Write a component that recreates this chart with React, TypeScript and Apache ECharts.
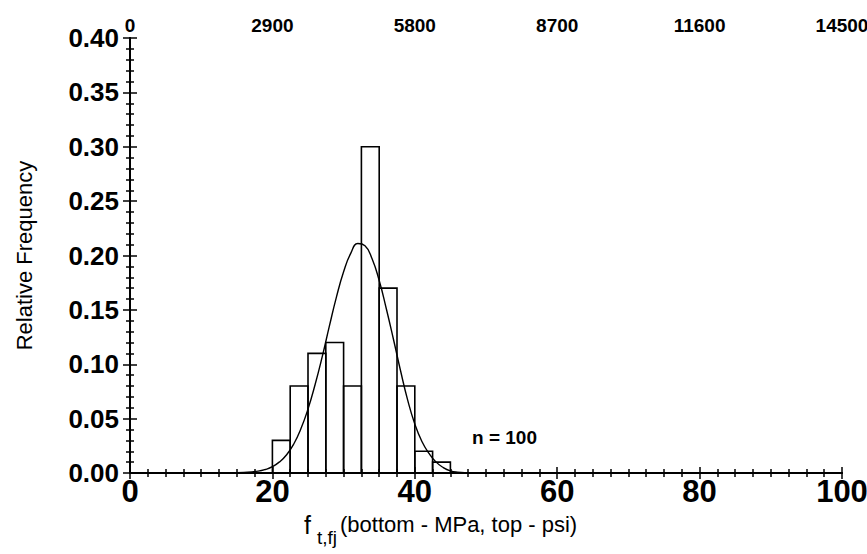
import React, { useEffect, useRef } from "react";
import * as echarts from "echarts";

const binEdges = [20, 22.5, 25, 27.5, 30, 32.5, 35, 37.5, 40, 42.5, 45];
const relFreq = [0.03, 0.08, 0.11, 0.12, 0.08, 0.3, 0.17, 0.08, 0.02, 0.01];

const curveX = [14, 16, 18, 19, 20, 21, 22, 23, 24, 25, 26, 27, 28, 29, 30, 31, 32, 33, 34, 35, 36, 37, 38, 39, 40, 41, 42, 43, 44, 45, 46, 48];
const curveY = [0.0, 0.0005, 0.0017, 0.0032, 0.0058, 0.0102, 0.0168, 0.0267, 0.0406, 0.0588, 0.0814, 0.107, 0.135, 0.162, 0.185, 0.202, 0.211, 0.209, 0.197, 0.177, 0.151, 0.123, 0.094, 0.067, 0.045, 0.029, 0.018, 0.01, 0.005, 0.002, 0.0008, 0.0];

const bottomMin = 0;
const bottomMax = 100;
const bottomInterval = 20;
const topMin = 0;
const topMax = 14500;
const topInterval = 2900;
const yMin = 0;
const yMax = 0.4;
const yInterval = 0.05;

const yTitle = "Relative Frequency";
const xTitleMain = "f";
const xTitleSub = "t,fj";
const xTitleRest = "(bottom - MPa, top - psi)";
const sampleLabel = "n = 100";

const FONT = '"Liberation Sans", Arial, sans-serif';

export default function App() {
  const ref = useRef<HTMLDivElement>(null);
  useEffect(() => {
    if (!ref.current) return;
    const chart = echarts.init(ref.current, null, { renderer: "svg" });
    const axisLine = { show: true, lineStyle: { color: "#000", width: 2 } };
    const tickStyle = { color: "#000", width: 1.5 };
    const option: any = {
      animation: false,
      backgroundColor: "#fff",
      grid: { left: 130, right: 25, top: 38, bottom: 81, outerBoundsMode: "none", containLabel: false },
      xAxis: [
        {
          type: "value",
          position: "bottom",
          min: bottomMin,
          max: bottomMax,
          interval: bottomInterval,
          axisLine,
          axisTick: { show: true, inside: false, length: 6, lineStyle: tickStyle },
          minorTick: { show: true, splitNumber: 8, length: 4, lineStyle: tickStyle },
          splitLine: { show: false },
          axisLabel: {
            color: "#000",
            fontFamily: FONT,
            fontSize: 31,
            fontWeight: "bold",
            margin: 3,
            formatter: (v: number) => String(v),
            showMinLabel: true,
            showMaxLabel: true,
          },
        },
        {
          type: "value",
          position: "top",
          min: topMin,
          max: topMax,
          interval: topInterval,
          axisLine,
          axisTick: { show: true, inside: false, length: 6, lineStyle: tickStyle },
          minorTick: { show: true, splitNumber: 8, length: 4, lineStyle: tickStyle },
          splitLine: { show: false },
          axisLabel: {
            color: "#000",
            fontFamily: FONT,
            fontSize: 19,
            fontWeight: "bold",
            margin: 3,
            formatter: (v: number) => String(v),
            showMinLabel: true,
            showMaxLabel: true,
          },
        },
      ],
      yAxis: [
        {
          type: "value",
          position: "left",
          min: yMin,
          max: yMax,
          interval: yInterval,
          axisLine,
          axisTick: { show: true, inside: false, length: 7, lineStyle: tickStyle },
          minorTick: { show: true, splitNumber: 5, length: 4, lineStyle: tickStyle },
          splitLine: { show: false },
          axisLabel: {
            color: "#000",
            fontFamily: FONT,
            fontSize: 26,
            fontWeight: "bold",
            margin: 11,
            formatter: (v: number) => v.toFixed(2),
            showMinLabel: true,
            showMaxLabel: true,
          },
          name: yTitle,
          nameLocation: "middle",
          nameGap: 95,
          nameRotate: 90,
          nameTextStyle: { color: "#000", fontFamily: FONT, fontSize: 22 },
        },
        {
          type: "value",
          position: "right",
          min: yMin,
          max: yMax,
          interval: yInterval,
          axisLine,
          axisTick: { show: true, inside: false, length: 7, lineStyle: tickStyle },
          minorTick: { show: true, splitNumber: 5, length: 4, lineStyle: tickStyle },
          splitLine: { show: false },
          axisLabel: { show: false },
        },
      ],
      series: [
        {
          type: "custom",
          xAxisIndex: 0,
          yAxisIndex: 0,
          z: 2,
          data: relFreq.map((v, i) => [binEdges[i], binEdges[i + 1], v]),
          encode: { x: [0, 1], y: 2 },
          renderItem: (params: any, api: any) => {
            const p0 = api.coord([api.value(0), api.value(2)]);
            const p1 = api.coord([api.value(1), 0]);
            return {
              type: "rect",
              shape: { x: p0[0], y: p0[1], width: p1[0] - p0[0], height: p1[1] - p0[1] },
              style: { fill: "none", stroke: "#000", lineWidth: 1.6 },
            };
          },
        },
        {
          type: "line",
          xAxisIndex: 0,
          yAxisIndex: 0,
          z: 3,
          smooth: true,
          symbol: "none",
          data: curveX.map((x, i) => [x, curveY[i]]),
          lineStyle: { color: "#000", width: 1.4 },
        },
      ],
      graphic: [
        {
          type: "text",
          left: 472,
          top: 428,
          style: { text: sampleLabel, fontFamily: FONT, fontSize: 19, fontWeight: "bold", fill: "#000" },
        },
        {
          type: "text",
          left: 304,
          top: 512,
          style: { text: xTitleMain, fontFamily: FONT, fontSize: 25, fill: "#000" },
        },
        {
          type: "text",
          left: 317,
          top: 528,
          style: { text: xTitleSub, fontFamily: FONT, fontSize: 19, fill: "#000" },
        },
        {
          type: "text",
          left: 340,
          top: 513,
          style: { text: xTitleRest, fontFamily: FONT, fontSize: 22, fill: "#000" },
        },
      ],
    };
    chart.setOption(option);
    return () => chart.dispose();
  }, []);
  return (
    <div
      ref={ref}
      style={{ position: "fixed", left: 0, top: 0, width: 867, height: 554, background: "#fff" }}
    />
  );
}
